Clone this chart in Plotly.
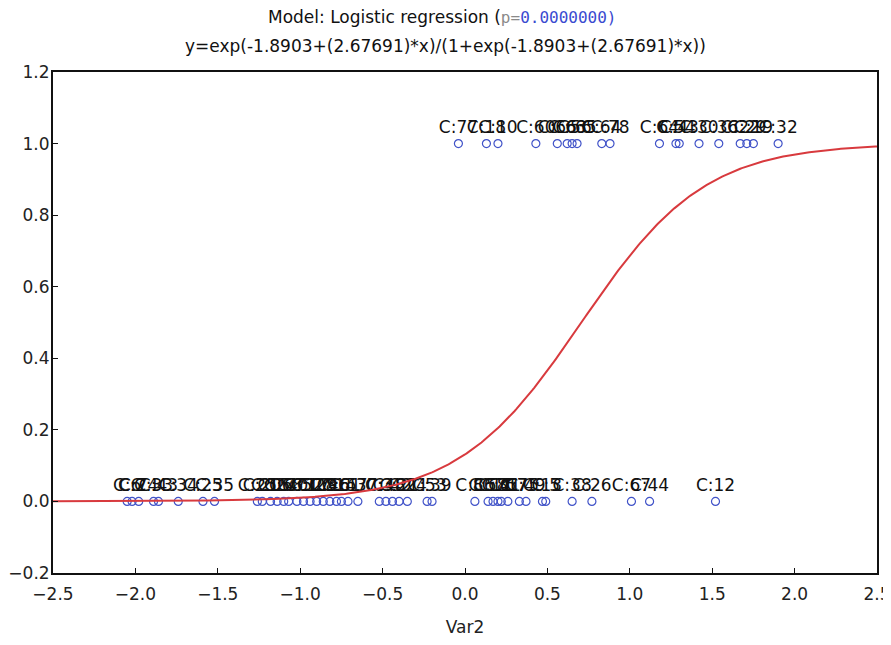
import numpy as np
import plotly.graph_objects as go

# Model coefficients shown in the title
B0 = -1.8903
B1 = 2.67691

# Observed cases with y = 1
x_one = [-0.04, 0.13, 0.20, 0.43, 0.56, 0.62, 0.65, 0.68, 0.83, 0.88,
         1.18, 1.28, 1.30, 1.42, 1.54, 1.67, 1.71, 1.75, 1.90]
lab_one = ["C:77", "C:18", "C:10", "C:60", "C:66", "C:63", "C:56", "C:65", "C:64", "C:78",
           "C:64", "C:54", "C:43", "C:30", "C:36", "C:22", "C:29", "C:19", "C:32"]

# Observed cases with y = 0
x_zero = [-2.05, -2.02, -1.98, -1.89, -1.86, -1.74, -1.59, -1.52,
          -1.26, -1.23, -1.18, -1.14, -1.10, -1.07, -1.02, -0.98, -0.94, -0.90,
          -0.86, -0.82, -0.78, -0.75, -0.71, -0.65, -0.52, -0.48, -0.44, -0.40,
          -0.35, -0.23, -0.20, 0.06, 0.14, 0.17, 0.20, 0.22, 0.26, 0.33, 0.37,
          0.47, 0.49, 0.65, 0.77, 1.01, 1.12, 1.52]
lab_zero = ["C:6", "C:2", "C:74", "C:33", "C:43", "C:34", "C:25", "C:35",
            "C:25", "C:20", "C:15", "C:27", "C:68", "C:40", "C:71", "C:52", "C:17", "C:28",
            "C:9", "C:46", "C:14", "C:61", "C:57", "C:37", "C:3", "C:48", "C:42", "C:21",
            "C:24", "C:53", "C:39", "C:86", "C:58", "C:11", "C:71", "C:41", "C:57", "C:75",
            "C:49", "C:13", "C:5", "C:38", "C:26", "C:67", "C:44", "C:12"]
y_one = [1.0] * len(x_one)
y_zero = [0.0] * len(x_zero)

# Fitted curve from the model in the title
xc = np.linspace(-2.5, 2.5, 501)
yc = np.exp(B0 + B1 * xc) / (1 + np.exp(B0 + B1 * xc))

FONT = "DejaVu Sans, Arial, sans-serif"
fig = go.Figure()
mk = dict(symbol="circle-open", size=8, color="#4052c8", line=dict(width=1.2))
tf = dict(family=FONT, size=17, color="#111111")
fig.add_trace(go.Scatter(x=x_zero + x_one, y=y_zero + y_one, mode="markers+text",
                         text=lab_zero + lab_one, textposition="top center",
                         textfont=tf, marker=mk, showlegend=False, cliponaxis=False))
fig.add_trace(go.Scatter(x=xc, y=yc, mode="lines", line=dict(color="#d83a3e", width=2),
                         showlegend=False))

axfont = dict(family=FONT, size=17, color="#222222")
fig.update_xaxes(range=[-2.5, 2.5], dtick=0.5, tick0=-2.5, tickformat=".1f",
                 showgrid=False, zeroline=False, showline=True, linecolor="#111111",
                 linewidth=2, mirror=True, ticks="inside", ticklen=5, tickcolor="#111111",
                 tickfont=axfont, ticklabelstandoff=5, automargin=False,
                 ticklabeloverflow="allow",
                 title=dict(text="Var2", font=dict(family=FONT, size=17, color="#222222"),
                            standoff=20))
fig.update_yaxes(range=[-0.2, 1.2], dtick=0.2, tick0=-0.2, tickformat=".1f",
                 showgrid=False, zeroline=False, showline=True, linecolor="#111111",
                 linewidth=2, mirror=True, ticks="inside", ticklen=5, tickcolor="#111111",
                 tickfont=axfont, ticklabelstandoff=-2, automargin=False,
                 ticklabeloverflow="allow")

fig.add_annotation(xref="paper", yref="paper", x=0.472, y=1, yshift=55, xanchor="center",
                   yanchor="middle", showarrow=False,
                   text="Model: Logistic regression (<span style='font-family:DejaVu Sans Mono, monospace;font-size:16px;color:#8a8a8a'>p=</span>"
                        "<span style='font-family:DejaVu Sans Mono, monospace;font-size:16px;color:#3a4ad0'>0.0000000)</span>",
                   font=dict(family=FONT, size=17, color="#111111"))
fig.add_annotation(xref="paper", yref="paper", x=0.476, y=1, yshift=26, xanchor="center",
                   yanchor="middle", showarrow=False,
                   text="y=exp(-1.8903+(2.67691)*x)/(1+exp(-1.8903+(2.67691)*x))",
                   font=dict(family=FONT, size=17, color="#111111"))

# page body has an 8px margin; sizes compensate so the plot sits where the reference's does
fig.update_layout(width=883, height=629, margin=dict(l=45, r=14, t=64, b=64),
                  paper_bgcolor="white", plot_bgcolor="white")
fig.write_html("out.html")
